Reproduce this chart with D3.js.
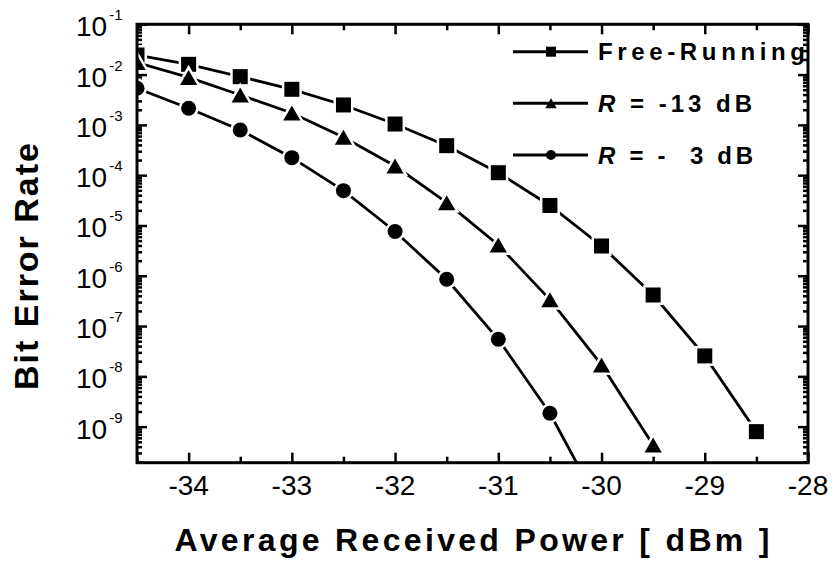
<!DOCTYPE html>
<html><head><meta charset="utf-8">
<script src="https://cdn.jsdelivr.net/npm/d3@7"></script>
<style>body{margin:0;background:#fff}svg{display:block}</style>
</head><body><svg id="c" width="834" height="563"></svg>
<script>
// ---- data ----
const powerFree = [-34.5,-34,-33.5,-33,-32.5,-32,-31.5,-31,-30.5,-30,-29.5,-29,-28.5];
const berFree   = [2.45e-2,1.6e-2,9.1e-3,5.1e-3,2.49e-3,1.04e-3,3.86e-4,1.12e-4,2.5e-5,3.91e-6,4.15e-7,2.55e-8,7.96e-10];
const powerR13  = [-34.5,-34,-33.5,-33,-32.5,-32,-31.5,-31,-30.5,-30,-29.5];
const berR13    = [1.73e-2,8.8e-3,3.93e-3,1.72e-3,5.66e-4,1.52e-4,2.84e-5,4.09e-6,3.35e-7,1.69e-8,4.33e-10];
const powerR3   = [-34.5,-34,-33.5,-33,-32.5,-32,-31.5,-31,-30.5,-30];
const berR3     = [5.35e-3,2.14e-3,7.93e-4,2.23e-4,4.92e-5,7.6e-6,8.5e-7,5.47e-8,1.85e-9,2.3e-11];
const xTicks = [-34,-33,-32,-31,-30,-29,-28];
const xMinorTicks = [-34.5,-33.5,-32.5,-31.5,-30.5,-29.5,-28.5];
const yExponents = [-1,-2,-3,-4,-5,-6,-7,-8,-9];
const seriesNames = ["Free-Running","R = -13 dB","R = -  3 dB"];
const xTitle = "Average Received Power [ dBm ]";
const yTitle = "Bit Error Rate";

const svg = d3.select("#c");
const L = 137, R = 808, T = 24.3, B = 462.7;
const x = d3.scaleLinear().domain([-34.5,-28]).range([L,R]);
const y = d3.scaleLog().domain([1.92e-10, 0.1]).range([B,T]);
const font = "'Liberation Sans', Arial, Helvetica, sans-serif";

// minor y ticks
const yMinor = [];
for (let e=-10; e<=-2; e++) for (let m=2; m<=9; m++) {
  const v = m*Math.pow(10,e);
  if (v>=y.domain()[0] && v<=y.domain()[1]) yMinor.push(v);
}
const yMajor = yExponents.map(e=>Math.pow(10,e));

function styleAxis(g){ g.select(".domain").remove(); g.selectAll("line").attr("stroke","#000").attr("stroke-width",2.5); g.selectAll("text").remove(); }

// axes (inward ticks)
svg.append("g").attr("transform",`translate(0,${B})`).call(d3.axisBottom(x).tickValues(xTicks).tickSize(-10)).call(styleAxis);
svg.append("g").attr("transform",`translate(0,${B})`).call(d3.axisBottom(x).tickValues(xMinorTicks).tickSize(-6)).call(styleAxis);
svg.append("g").attr("transform",`translate(0,${T})`).call(d3.axisTop(x).tickValues(xTicks).tickSize(-10)).call(styleAxis);
svg.append("g").attr("transform",`translate(0,${T})`).call(d3.axisTop(x).tickValues(xMinorTicks).tickSize(-6)).call(styleAxis);
svg.append("g").attr("transform",`translate(${L},0)`).call(d3.axisLeft(y).tickValues(yMajor).tickSize(-10)).call(styleAxis);
svg.append("g").attr("transform",`translate(${L},0)`).call(d3.axisLeft(y).tickValues(yMinor).tickSize(-5)).call(styleAxis);
svg.append("g").attr("transform",`translate(${R},0)`).call(d3.axisRight(y).tickValues(yMajor).tickSize(-10)).call(styleAxis);
svg.append("g").attr("transform",`translate(${R},0)`).call(d3.axisRight(y).tickValues(yMinor).tickSize(-5)).call(styleAxis);

// x tick labels
svg.append("g").selectAll("text").data(xTicks).join("text")
  .attr("x",d=>x(d)).attr("y",B+32).attr("text-anchor","middle")
  .attr("font-family",font).attr("font-size",28).text(d=>String(d));

// y tick labels
const yl = svg.append("g").selectAll("text").data(yExponents).join("text")
  .attr("x",76).attr("y",e=>y(Math.pow(10,e))+12)
  .attr("font-family",font).attr("font-size",28);
yl.append("tspan").text("10");
yl.append("tspan").attr("dx",2).attr("dy",-16).attr("font-size",15).text(e=>"-"+Math.abs(e));

// clip
svg.append("clipPath").attr("id","clip").append("rect").attr("x",L).attr("y",T).attr("width",R-L).attr("height",B-T);

const series = [
  {px:powerFree, v:berFree, shape:"square"},
  {px:powerR13, v:berR13, shape:"triangle"},
  {px:powerR3, v:berR3, shape:"circle"}
];
function marker(sel, shape, s){
  if (shape==="square") return sel.append("rect").attr("x",-s/2).attr("y",-s/2).attr("width",s).attr("height",s);
  if (shape==="circle") return sel.append("circle").attr("r",s/2);
  const w=s*1.15, h=s*1.0;
  return sel.append("path").attr("d",`M0,${-h/2}L${w/2},${h/2}L${-w/2},${h/2}Z`);
}
const plot = svg.append("g").attr("clip-path","url(#clip)");
const line = d3.line().x(d=>x(d[0])).y(d=>y(d[1]));
series.forEach(s=>{
  const pts = s.px.map((p,i)=>[p,s.v[i]]);
  plot.append("path").datum(pts).attr("d",line).attr("fill","none").attr("stroke","#000").attr("stroke-width",2.8);
  pts.forEach(p=>{
    const g = plot.append("g").attr("transform",`translate(${x(p[0])},${y(p[1])})`);
    marker(g, s.shape, 15).attr("fill","#000").attr("stroke","#fff").attr("stroke-width",5).attr("paint-order","stroke");
  });
});

// frame
svg.append("rect").attr("x",L).attr("y",T).attr("width",R-L).attr("height",B-T)
  .attr("fill","none").attr("stroke","#000").attr("stroke-width",3);

// legend
const legY = [51.7,103.3,155];
const legLen = [207,154,155];
series.forEach((s,i)=>{
  const g = svg.append("g").attr("transform",`translate(0,${legY[i]})`);
  g.append("line").attr("x1",513).attr("x2",588).attr("stroke","#000").attr("stroke-width",3);
  const mg = g.append("g").attr("transform","translate(551,0)");
  marker(mg, s.shape, 10).attr("fill","#000");
  const t = g.append("text").attr("x",598).attr("y",8.5).attr("font-family",font).attr("font-weight","bold")
    .attr("font-size",24).attr("textLength",legLen[i]).attr("lengthAdjust","spacing").style("white-space","pre");
  const name = seriesNames[i];
  if (name.startsWith("R ")) {
    t.append("tspan").attr("font-style","italic").text("R");
    t.append("tspan").text(name.slice(1));
  } else t.text(name);
});

// titles
svg.append("text").attr("x",472).attr("y",551).attr("text-anchor","middle")
  .attr("font-family",font).attr("font-weight","bold").attr("font-size",32)
  .attr("textLength",595).attr("lengthAdjust","spacing").text(xTitle);
svg.append("text").attr("transform","translate(38,266.5) rotate(-90)").attr("text-anchor","middle")
  .attr("font-family",font).attr("font-weight","bold").attr("font-size",34)
  .attr("textLength",247).attr("lengthAdjust","spacing").text(yTitle);
</script></body></html>
